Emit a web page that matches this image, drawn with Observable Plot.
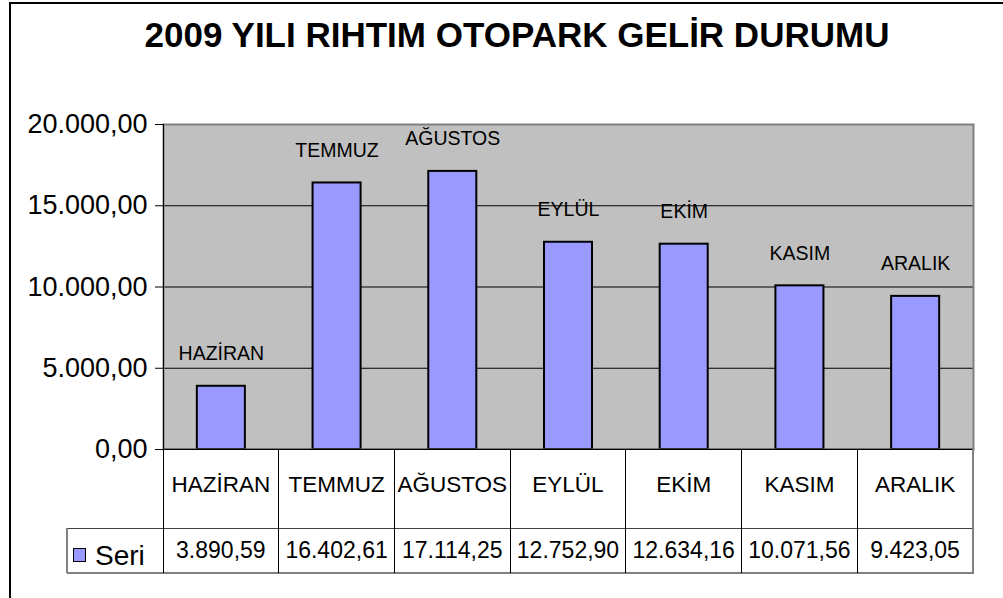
<!DOCTYPE html>
<html>
<head>
<meta charset="utf-8">
<script src="https://cdn.jsdelivr.net/npm/d3@7"></script>
<script src="https://cdn.jsdelivr.net/npm/@observablehq/plot@0.6"></script>
<style>
  body { margin: 0; background: #fff; }
  #root { position: relative; width: 1003px; height: 598px; overflow: hidden; font-family: "Liberation Sans", Arial, sans-serif; color: #000; }
  #border { position: absolute; left: 9px; top: 2px; width: 1100px; height: 700px; border-left: 2px solid #000; border-top: 2px solid #000; }
  #title { position: absolute; left: 0; width: 1034px; top: 18px; text-align: center; font-weight: bold; font-size: 35px; line-height: 34px; white-space: nowrap; }
  #chart { position: absolute; left: 0; top: 0; }
  .ln { position: absolute; }
  .cell { position: absolute; box-sizing: border-box; display: flex; align-items: center; justify-content: center; white-space: nowrap; }
</style>
</head>
<body>
<div id="root">
  <div id="border"></div>
  <div id="title"></div>
  <div id="chart"></div>
</div>
<script>
// ---- data ----
const titleText = "2009 YILI RIHTIM OTOPARK GELİR DURUMU";
const months = ["HAZİRAN", "TEMMUZ", "AĞUSTOS", "EYLÜL", "EKİM", "KASIM", "ARALIK"];
const values = [3890.59, 16402.61, 17114.25, 12752.90, 12634.16, 10071.56, 9423.05];
const yTicks = [0, 5000, 10000, 15000, 20000];
const seriesName = "Seri";

// ---- helpers ----
const trLocale = d3.formatLocale({decimal: ",", thousands: ".", grouping: [3], currency: ["", ""]});
const fmt = trLocale.format(",.2f");
const data = months.map((m, i) => ({month: m, value: values[i]}));

document.getElementById("title").textContent = titleText;

const plotTop = 124, plotBottom = 449, svgH = 475;
const chart = Plot.plot({
  width: 1003,
  height: svgH,
  marginLeft: 163,
  marginRight: 30,
  marginTop: plotTop,
  marginBottom: svgH - plotBottom,
  style: {background: "transparent", fontFamily: "'Liberation Sans', Arial, sans-serif", color: "#000"},
  x: {domain: months, paddingInner: 0.585, paddingOuter: 0.2925, round: false, axis: null},
  y: {domain: [0, 20000], axis: null},
  marks: [
    Plot.frame({fill: "#C0C0C0", stroke: null}),
    Plot.gridY(yTicks, {stroke: "#000", strokeOpacity: 1, strokeWidth: 1}),
    Plot.barY(data, {x: "month", y: "value", fill: "#9999FF", stroke: "#000", strokeWidth: 2}),
    Plot.text(data, {x: "month", y: "value", text: "month", lineAnchor: "bottom", dy: -26, fontSize: 19.5, fill: "#000"}),
    Plot.frame({stroke: "#808080", strokeWidth: 2}),
    Plot.ruleY([0], {stroke: "#000", strokeWidth: 1.5}),
    Plot.axisY(yTicks, {tickSize: 8, tickPadding: 8, tickFormat: fmt, fontSize: 27, stroke: "#000", fill: "#000", label: null})
  ]
});
document.getElementById("chart").appendChild(chart);

// ---- data table below the chart, positioned with the chart's x scale ----
const root = document.getElementById("root");
const xs = chart.scale("x");
const step = xs.step, bw = xs.bandwidth;
const colLeft = m => xs.apply(m) - (step - bw) / 2;
const tableLeft = 67, row1Top = plotBottom, row2Top = 528, row2Bottom = 573;
const firstLeft = colLeft(months[0]);
const lastRight = colLeft(months[months.length - 1]) + step;

function line(x, y, w, h, color) {
  const d = document.createElement("div");
  d.className = "ln";
  Object.assign(d.style, {left: x + "px", top: y + "px", width: w + "px", height: h + "px", background: color});
  root.appendChild(d);
}
function cell(x, y, w, h, text, size, extra) {
  const d = document.createElement("div");
  d.className = "cell";
  Object.assign(d.style, {left: x + "px", top: y + "px", width: w + "px", height: h + "px", fontSize: size + "px"}, extra || {});
  d.textContent = text;
  root.appendChild(d);
}

// white background behind the table so the svg margin doesn't show through
const bg = document.createElement("div");
Object.assign(bg.style, {position: "absolute", left: firstLeft + "px", top: (row1Top + 1) + "px", width: (lastRight - firstLeft) + "px", height: (row2Bottom - row1Top) + "px", background: "#fff"});
root.appendChild(bg);

months.forEach((m, i) => {
  const l = colLeft(m);
  cell(l, row1Top, step, row2Top - row1Top, m, 22.5, {paddingBottom: "7px"});
  cell(l, row2Top, step, row2Bottom - row2Top, fmt(values[i]), 23);
});

// horizontal lines
line(tableLeft, row2Top - 0.5, lastRight - tableLeft, 1, "#404040");
line(tableLeft, row2Bottom - 1, lastRight - tableLeft + 1, 2, "#808080");
// outer verticals
line(tableLeft - 1, row2Top, 2, row2Bottom - row2Top, "#808080");
line(firstLeft - 0.5, plotTop, 1, row2Bottom - plotTop, "#000");
line(lastRight - 1, row1Top, 2, row2Bottom - row1Top, "#808080");
// interior verticals
months.slice(1).forEach(m => line(colLeft(m) - 0.5, row1Top, 1, row2Bottom - row1Top, "#000"));

// legend key in the table
const key = document.createElement("div");
Object.assign(key.style, {position: "absolute", left: "73px", top: "548px", width: "11px", height: "12px", background: "#9999FF", border: "1px solid #000"});
root.appendChild(key);
const lab = document.createElement("div");
Object.assign(lab.style, {position: "absolute", left: "95px", top: "542px", fontSize: "28px", lineHeight: "28px"});
lab.textContent = seriesName;
root.appendChild(lab);
</script>
</body>
</html>
